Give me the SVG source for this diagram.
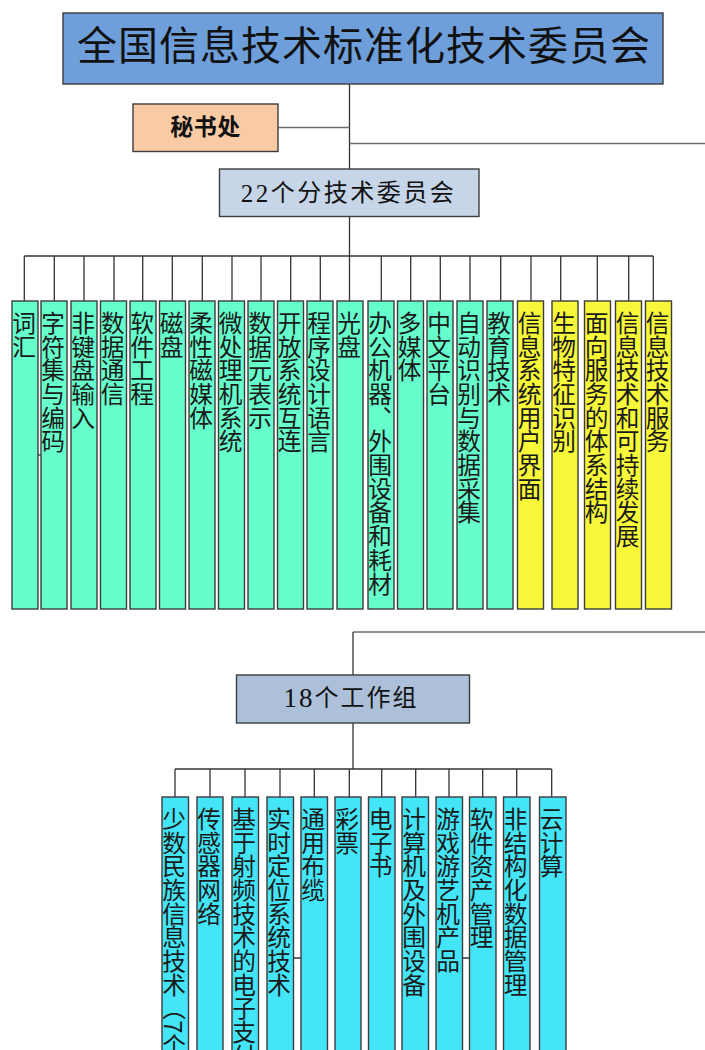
<svg xmlns="http://www.w3.org/2000/svg" width="705" height="1050" viewBox="0 0 705 1050">
<style>
.bx{stroke:#3c3c3c;stroke-width:1.4}
.top{fill:#6e9fdb}
.sec{fill:#f8cba5}
.sub{fill:#c6d5e8}
.wgh{fill:#acc0da}
.g{fill:#66ffcc}
.y{fill:#f8f83a}
.c{fill:#44e5f7}
.ln{stroke:#333;stroke-width:1.3;fill:none}
.lg{stroke:#6e6e6e;stroke-width:1.5;fill:none}
.h{font-family:"Liberation Serif","Noto Sans CJK SC",serif;fill:#111;text-anchor:middle;dominant-baseline:central}
.v{font-family:"Noto Sans CJK SC",sans-serif;font-size:23.7px;fill:#1a1a1a;writing-mode:vertical-rl}
</style>
<rect width="705" height="1050" fill="#ffffff"/>
<g id="connectors">
<path class="ln" d="M349.5 84V256"/>
<path class="lg" d="M278 127.5H349.5"/>
<path class="lg" d="M349.5 143.5H705"/>
<path class="ln" d="M24.3 256H653.3"/>
<path class="ln" d="M24.3 256V301M54.3 256V301M84 256V301M114 256V301M142.7 256V301M172.3 256V301M202.3 256V301M232 256V301M261 256V301M290.7 256V301M320.3 256V301M381.3 256V301M410.7 256V301M440.3 256V301M470 256V301M500.7 256V301M531 256V301M560.7 256V301M597.3 256V301M628.7 256V301M653.3 256V301"/>
<path class="ln" d="M349.5 256V301"/>
<path class="ln" d="M37.7 455H41"/>
<path class="lg" d="M353 632H705"/>
<path class="ln" d="M353 632V675"/>
<path class="ln" d="M353 723V769"/>
<path class="ln" d="M175 769H551.7"/>
<path class="ln" d="M175 769V797M210 769V797M245 769V797M280 769V797M314.3 769V797M349.3 769V797M381.7 769V797M415.7 769V797M449 769V797M482.7 769V797M516.7 769V797M551.7 769V797"/>
<path class="ln" d="M293.5 958H301M462.3 958H469.5"/>
</g>
<g id="n-top"><rect class="bx top" x="63" y="13" width="600" height="71"/><text class="h" x="364" y="46" font-size="40" letter-spacing="1">全国信息技术标准化技术委员会</text></g>
<g id="n-sec"><rect class="bx sec" x="133" y="104" width="145" height="47.5"/><text class="h" x="205.5" y="127" font-size="23" font-weight="bold" letter-spacing="0.5">秘书处</text></g>
<g id="n-sub"><rect class="bx sub" x="219.5" y="169" width="259.5" height="47.5"/><text class="h" x="348.5" y="192.5" font-size="24" letter-spacing="2.5"><tspan font-size="25">22</tspan>个分技术委员会</text></g>
<g id="c1"><rect class="bx g" x="12" y="301" width="26" height="308"/><text class="v" x="24" y="311">词汇</text></g>
<g id="c2"><rect class="bx g" x="41" y="301" width="26" height="308"/><text class="v" x="53" y="311">字符集与编码</text></g>
<g id="c3"><rect class="bx g" x="71" y="301" width="26" height="308"/><text class="v" x="83" y="311">非键盘输入</text></g>
<g id="c4"><rect class="bx g" x="100.5" y="301" width="26" height="308"/><text class="v" x="112.5" y="311">数据通信</text></g>
<g id="c5"><rect class="bx g" x="130" y="301" width="26" height="308"/><text class="v" x="142" y="311">软件工程</text></g>
<g id="c6"><rect class="bx g" x="159.5" y="301" width="26" height="308"/><text class="v" x="171.5" y="311">磁盘</text></g>
<g id="c7"><rect class="bx g" x="189" y="301" width="26" height="308"/><text class="v" x="201" y="311">柔性磁媒体</text></g>
<g id="c8"><rect class="bx g" x="218.5" y="301" width="26" height="308"/><text class="v" x="230.5" y="311">微处理机系统</text></g>
<g id="c9"><rect class="bx g" x="248" y="301" width="26" height="308"/><text class="v" x="260" y="311">数据元表示</text></g>
<g id="c10"><rect class="bx g" x="277.5" y="301" width="26" height="308"/><text class="v" x="289.5" y="311">开放系统互连</text></g>
<g id="c11"><rect class="bx g" x="307" y="301" width="26" height="308"/><text class="v" x="319" y="311">程序设计语言</text></g>
<g id="c12"><rect class="bx g" x="337" y="301" width="26" height="308"/><text class="v" x="349" y="311">光盘</text></g>
<g id="c13"><rect class="bx g" x="368" y="301" width="26" height="308"/><text class="v" x="380" y="311">办公机器、外围设备和耗材</text></g>
<g id="c14"><rect class="bx g" x="397.5" y="301" width="26" height="308"/><text class="v" x="409.5" y="311">多媒体</text></g>
<g id="c15"><rect class="bx g" x="427" y="301" width="26" height="308"/><text class="v" x="439" y="311">中文平台</text></g>
<g id="c16"><rect class="bx g" x="457" y="301" width="26" height="308"/><text class="v" x="469" y="311">自动识别与数据采集</text></g>
<g id="c17"><rect class="bx g" x="487" y="301" width="26" height="308"/><text class="v" x="499" y="311">教育技术</text></g>
<g id="c18"><rect class="bx y" x="517.5" y="301" width="26" height="308"/><text class="v" x="529.5" y="311">信息系统用户界面</text></g>
<g id="c19"><rect class="bx y" x="552" y="301" width="26" height="308"/><text class="v" x="564" y="311">生物特征识别</text></g>
<g id="c20"><rect class="bx y" x="584.5" y="301" width="26" height="308"/><text class="v" x="596.5" y="311">面向服务的体系结构</text></g>
<g id="c21"><rect class="bx y" x="615.5" y="301" width="26" height="308"/><text class="v" x="627.5" y="311">信息技术和可持续发展</text></g>
<g id="c22"><rect class="bx y" x="645.5" y="301" width="26" height="308"/><text class="v" x="657.5" y="311">信息技术服务</text></g>
<g id="n-wg"><rect class="bx wgh" x="236.5" y="675" width="233" height="48"/><text class="h" x="351" y="697.5" font-size="24" letter-spacing="2"><tspan font-size="27">18</tspan>个工作组</text></g>
<g id="w1"><rect class="bx c" x="162" y="797" width="26.5" height="270"/><text class="v" x="174" y="807">少数民族信息技术（7个）</text></g>
<g id="w2"><rect class="bx c" x="197" y="797" width="26" height="270"/><text class="v" x="209" y="807">传感器网络</text></g>
<g id="w3"><rect class="bx c" x="232" y="797" width="26.5" height="270"/><text class="v" x="244" y="807">基于射频技术的电子支付</text></g>
<g id="w4"><rect class="bx c" x="267" y="797" width="26.5" height="270"/><text class="v" x="279" y="807">实时定位系统技术</text></g>
<g id="w5"><rect class="bx c" x="301" y="797" width="26.5" height="270"/><text class="v" x="313" y="807">通用布缆</text></g>
<g id="w6"><rect class="bx c" x="335" y="797" width="26" height="270"/><text class="v" x="347" y="807">彩票</text></g>
<g id="w7"><rect class="bx c" x="368.5" y="797" width="26.5" height="270"/><text class="v" x="380.5" y="807">电子书</text></g>
<g id="w8"><rect class="bx c" x="402" y="797" width="26.5" height="270"/><text class="v" x="414" y="807">计算机及外围设备</text></g>
<g id="w9"><rect class="bx c" x="436" y="797" width="26.5" height="270"/><text class="v" x="448" y="807">游戏游艺机产品</text></g>
<g id="w10"><rect class="bx c" x="469.5" y="797" width="26.5" height="270"/><text class="v" x="481.5" y="807">软件资产管理</text></g>
<g id="w11"><rect class="bx c" x="503.5" y="797" width="26.5" height="270"/><text class="v" x="515.5" y="807">非结构化数据管理</text></g>
<g id="w12"><rect class="bx c" x="539.5" y="797" width="26.5" height="270"/><text class="v" x="551.5" y="807">云计算</text></g>
</svg>
